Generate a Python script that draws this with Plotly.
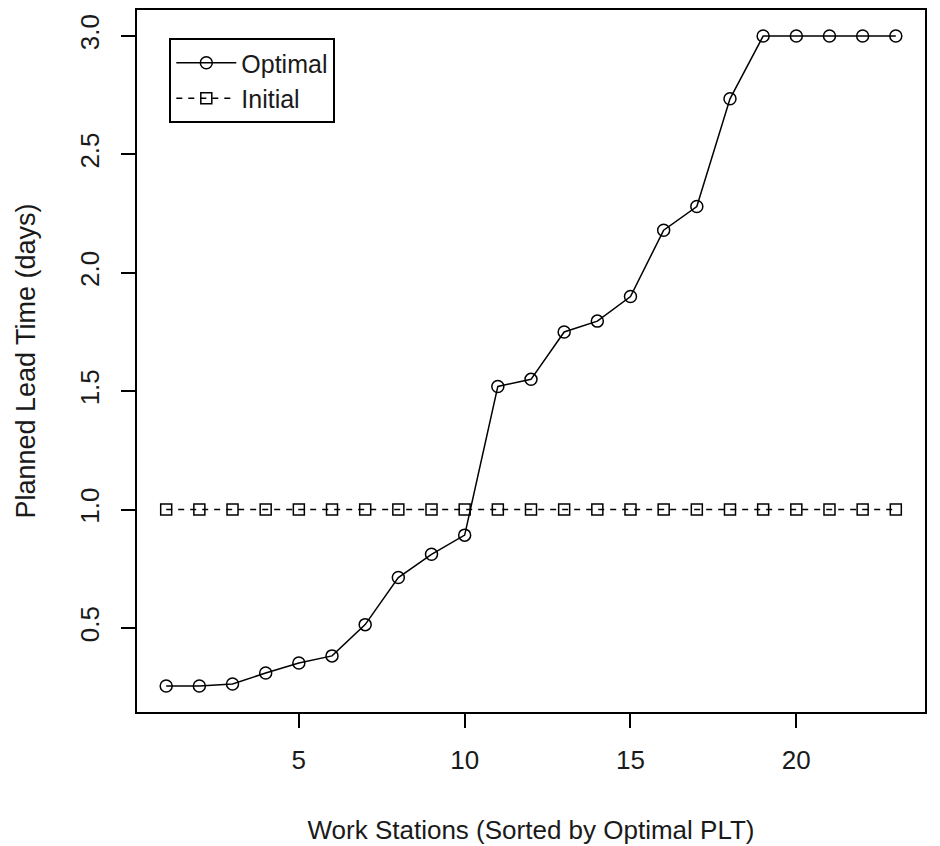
import plotly.graph_objects as go

stations = list(range(1, 24))
optimal = [0.255, 0.255, 0.263, 0.31, 0.352, 0.382, 0.514, 0.713, 0.811, 0.892,
           1.52, 1.55, 1.75, 1.796, 1.90, 2.18, 2.28, 2.735, 3.0, 3.0, 3.0, 3.0, 3.0]
initial = [1.0] * 23
x_ticks = [5, 10, 15, 20]
y_ticks = [0.5, 1.0, 1.5, 2.0, 2.5, 3.0]
y_tick_text = ["0.5", "1.0", "1.5", "2.0", "2.5", "3.0"]

font = "Liberation Sans, Arial, sans-serif"
ink = "#1a1a1a"

fig = go.Figure()
fig.add_trace(go.Scatter(
    x=stations, y=optimal, name="Optimal", mode="lines+markers",
    line=dict(color="black", width=1.5),
    marker=dict(symbol="circle-open", size=12, color="black", line=dict(width=1.5)),
))
fig.add_trace(go.Scatter(
    x=stations, y=initial, name="Initial", mode="lines+markers",
    line=dict(color="black", width=1.5, dash="6px,6px"),
    marker=dict(symbol="square-open", size=11, color="black", line=dict(width=1.5)),
))

fig.update_layout(
    width=940, height=846,
    margin=dict(l=137, r=15, t=10, b=134),
    paper_bgcolor="white", plot_bgcolor="white",
    font=dict(family=font, size=25, color=ink),
    showlegend=True,
    legend=dict(
        x=0.041, y=0.96, xanchor="left", yanchor="top",
        bordercolor="black", borderwidth=2, bgcolor="white",
        font=dict(size=25, color=ink),
        tracegroupgap=0, itemwidth=60,
    ),
)
fig.update_xaxes(
    range=[0.12, 23.88], tickvals=x_ticks, ticks="outside", ticklen=14,
    tickwidth=1.5, tickcolor="black", showline=True, mirror=True,
    linecolor="black", linewidth=2, showgrid=False, zeroline=False,
    tickfont=dict(size=26, color=ink), ticklabelstandoff=10, automargin=False,
    title=dict(text="Work Stations (Sorted by Optimal PLT)", standoff=47,
               font=dict(size=26, color=ink)),
)
fig.update_yaxes(
    range=[0.145, 3.11], tickvals=y_ticks, ticktext=y_tick_text,
    ticks="outside", ticklen=14, tickwidth=1.5, tickcolor="black",
    showline=True, mirror=True, linecolor="black", linewidth=2,
    showgrid=False, zeroline=False, tickangle=-90, automargin=False,
    tickfont=dict(size=26, color=ink), ticklabelstandoff=12,
    title=dict(text="Planned Lead Time (days)", standoff=31,
               font=dict(size=27, color=ink)),
)

fig.write_html("out.html")
